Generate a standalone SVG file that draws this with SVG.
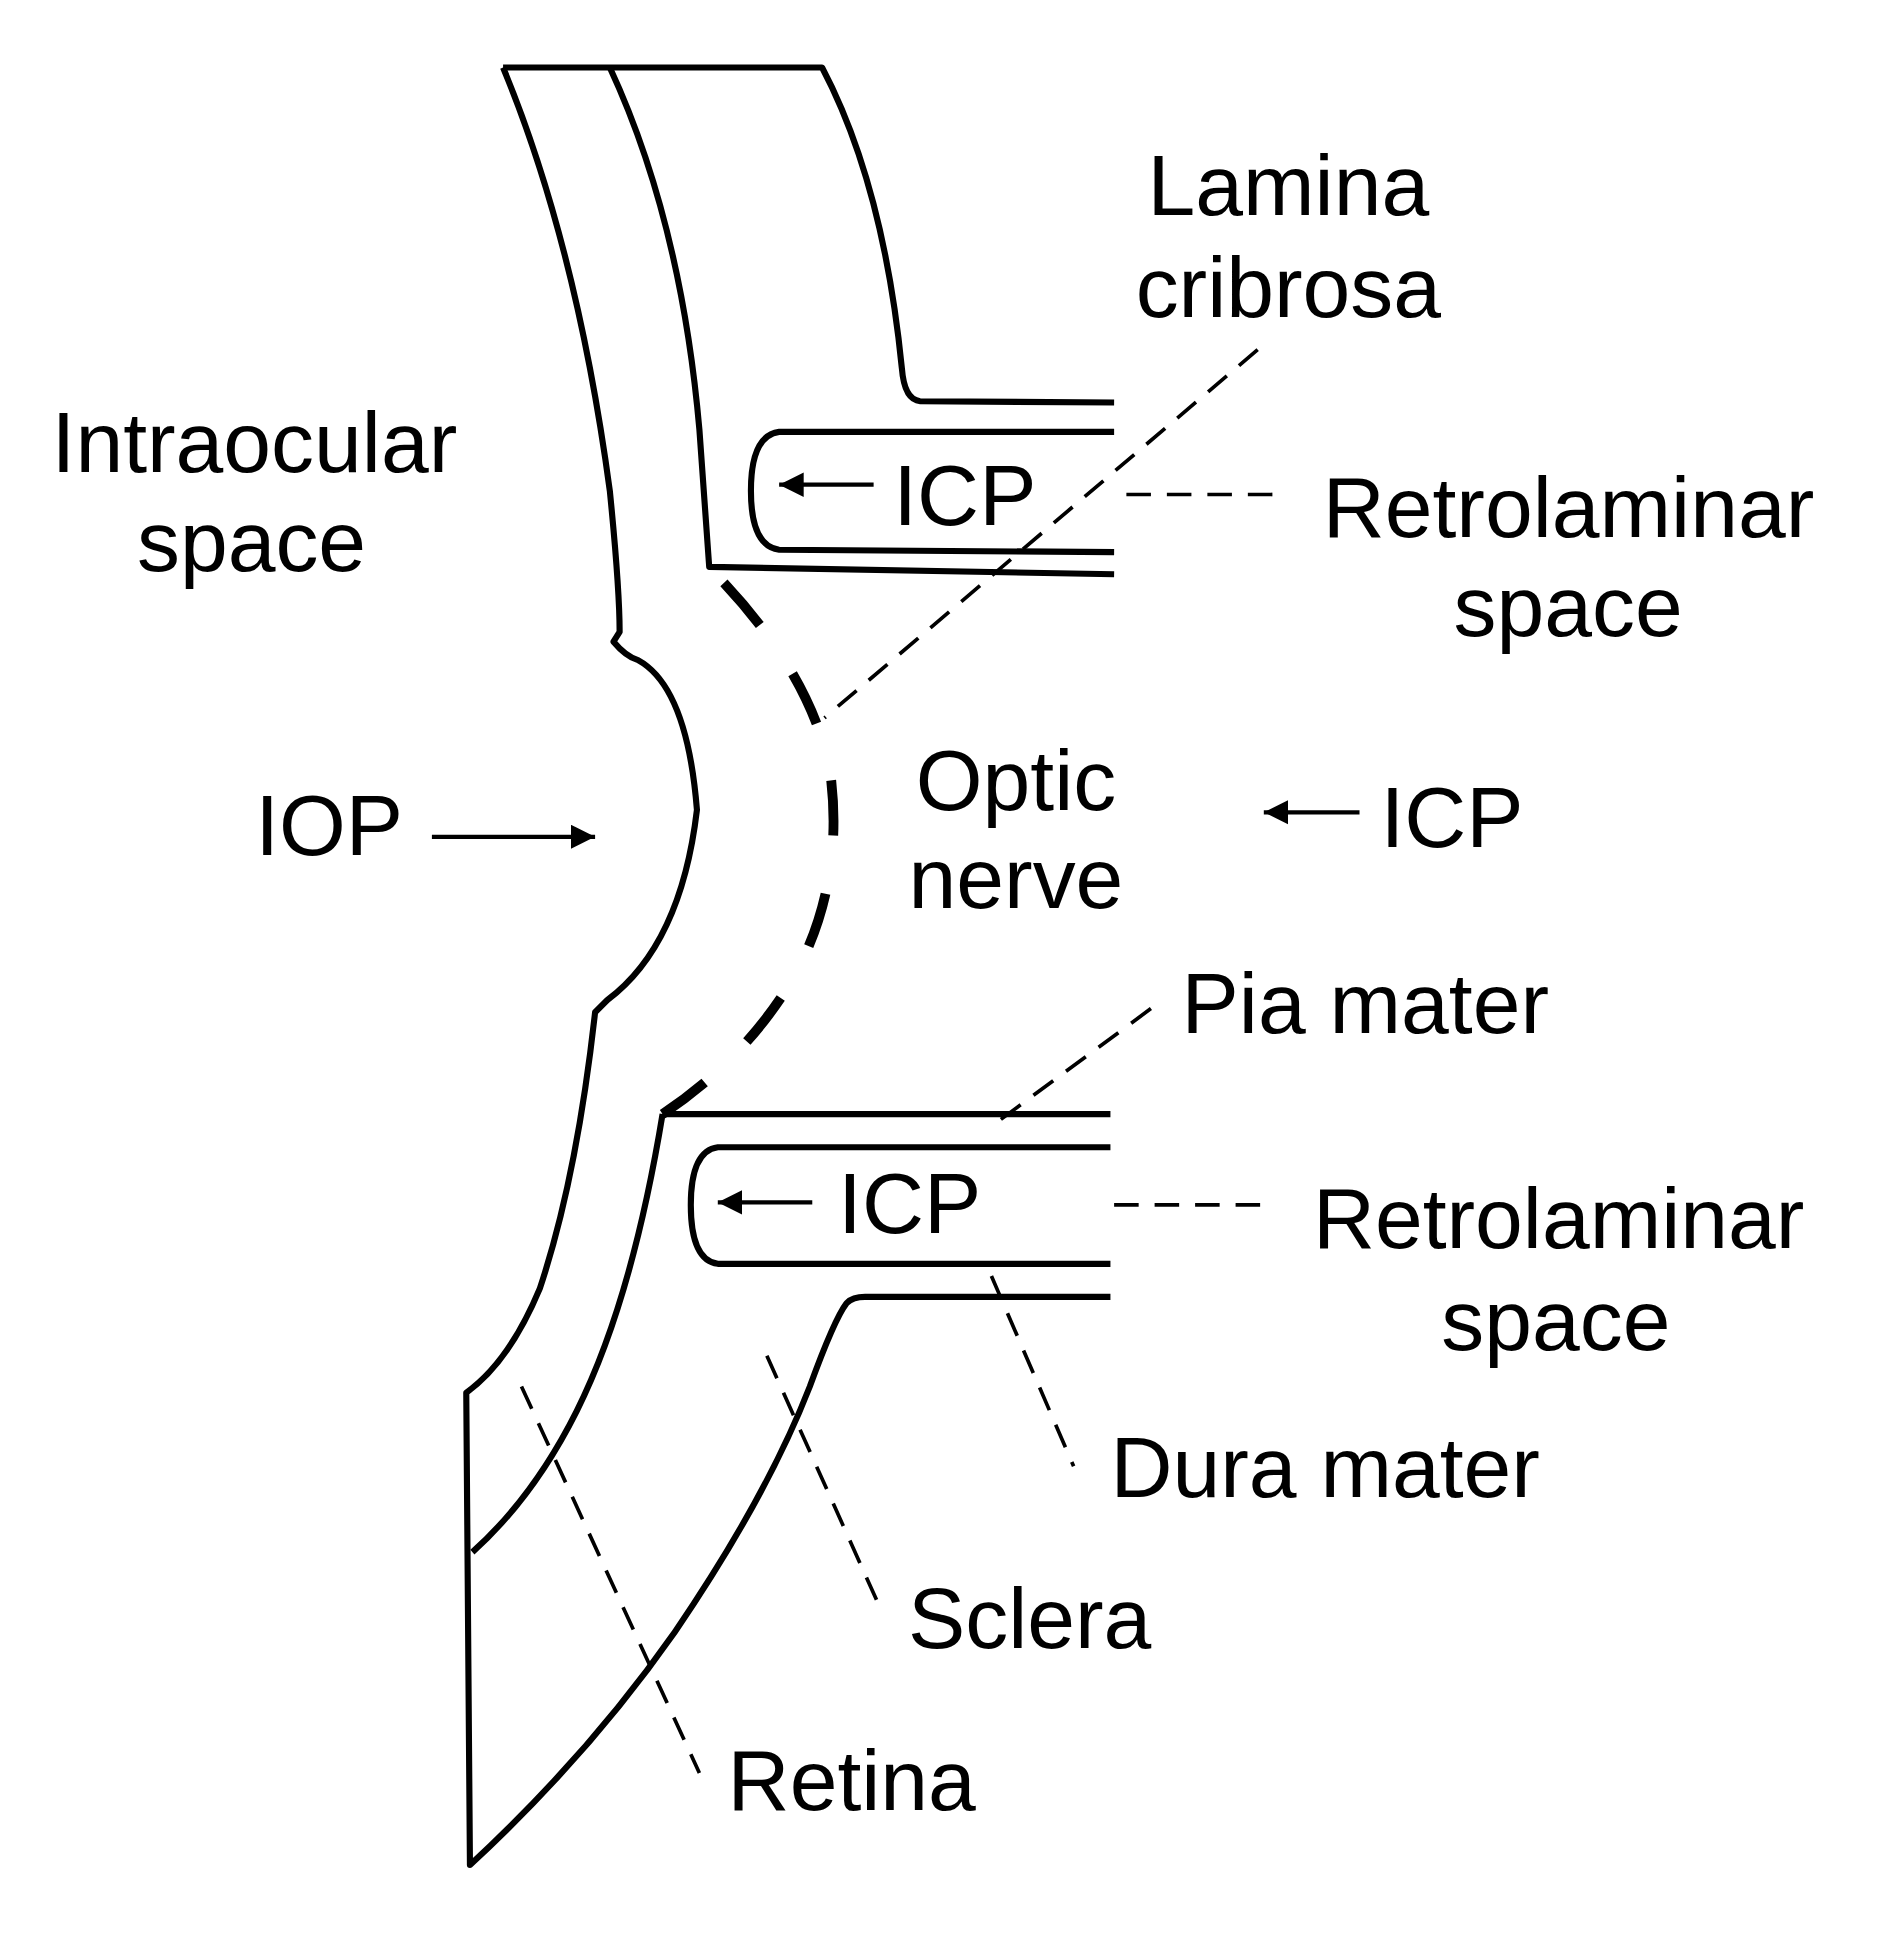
<svg xmlns="http://www.w3.org/2000/svg" width="1877" height="1941" viewBox="0 0 1877 1941">
<style>
.l{fill:none;stroke:#000;stroke-width:5;stroke-linejoin:round}
.d{fill:none;stroke:#000;stroke-width:3;stroke-dasharray:20 13}
.a{stroke:#000;stroke-width:3.5}
text{font-family:"Liberation Sans",Arial,sans-serif;font-size:70px;fill:#000}
.m{text-anchor:middle}
</style>
<defs><marker id="ah" viewBox="0 0 10 10" refX="10" refY="5" markerWidth="20" markerHeight="20" markerUnits="userSpaceOnUse" orient="auto"><path d="M0,0L10,5L0,10z"/></marker></defs>
<rect width="1877" height="1941" fill="#fff"/>
<g transform="scale(1.227)">
<g id="structure">
<path class="l" d="M410,55 L670,55 Q720,150 735,300 Q737,326 750,327 L908,328"/>
<path class="l" d="M410,55 Q470,200 497,400 Q505,480 505,515 L500,523 Q510,535 520,538 Q560,560 568,660 Q555,770 495,815 L485,825 Q470,960 440,1050 Q415,1110 380,1135 L383,1520 Q480,1430 550,1330 Q625,1220 660,1130 Q680,1075 690,1062 Q695,1057 705,1057 L905,1057"/>
<path class="l" d="M497,55 Q555,180 570,350 Q575,420 578,462 L908,468"/>
<path class="l" d="M908,352 L635,352 Q612,355 612,400 Q612,445 635,448 L908,450"/>
<path class="l" d="M540,908 L905,908"/>
<path class="l" d="M540,908 Q515,1060 470,1150 Q435,1220 385,1265"/>
<path class="l" d="M905,935 L585,935 Q563,938 563,982 Q563,1027 585,1030 L905,1030"/>
<path d="M590,475 Q660,550 676,625 Q690,720 645,800 Q605,865 540,908" fill="none" stroke="#000" stroke-width="8" stroke-dasharray="45 48"/>
</g>
<g id="connectors">
<path class="d" d="M1025,285 L672,585"/>
<path class="d" d="M918,403 L1040,403"/>
<path class="d" d="M938,822 L808,918"/>
<path class="d" d="M908,982 L1030,982"/>
<path class="d" d="M808,1040 L875,1195"/>
<path class="d" d="M625,1105 L718,1312"/>
<path class="d" d="M425,1130 L570,1445"/>
<line class="a" x1="352" y1="682" x2="485" y2="682" marker-end="url(#ah)"/>
<line class="a" x1="1108" y1="662" x2="1030" y2="662" marker-end="url(#ah)"/>
<line class="a" x1="712" y1="395" x2="635" y2="395" marker-end="url(#ah)"/>
<line class="a" x1="662" y1="980" x2="585" y2="980" marker-end="url(#ah)"/>
</g>
<g id="labels">
<text class="m" x="1050" y="175">Lamina</text>
<text class="m" x="1050" y="258">cribrosa</text>
<text x="42" y="385">Intraocular</text>
<text class="m" x="205" y="465">space</text>
<text x="728" y="428">ICP</text>
<text x="1078" y="438">Retrolaminar</text>
<text class="m" x="1278" y="518">space</text>
<text x="208" y="697">IOP</text>
<text class="m" x="828" y="660">Optic</text>
<text class="m" x="828" y="740">nerve</text>
<text x="1125" y="690">ICP</text>
<text x="963" y="842">Pia mater</text>
<text x="683" y="1005">ICP</text>
<text x="1070" y="1017">Retrolaminar</text>
<text class="m" x="1268" y="1100">space</text>
<text x="905" y="1220">Dura mater</text>
<text x="740" y="1343">Sclera</text>
<text x="593" y="1475">Retina</text>
</g>
</g>
</svg>
